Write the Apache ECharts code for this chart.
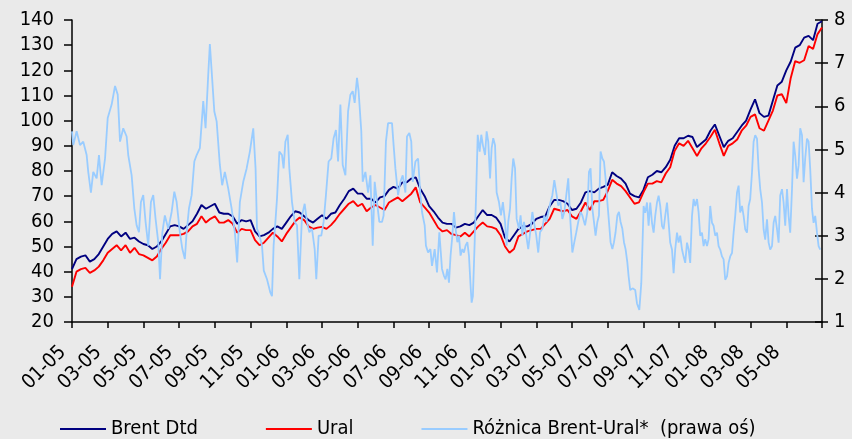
<!DOCTYPE html>
<html>
<head>
<meta charset="utf-8">
<script src="https://cdn.jsdelivr.net/npm/echarts/dist/echarts.min.js"></script>
<style>
  html, body { margin: 0; padding: 0; background: #eaeaea; }
  #chart { width: 852px; height: 439px; }
</style>
</head>
<body>
<div id="chart"></div>
<script>
// Month index 0 = Jan 2005; ticks every two months.
const xTickLabels = ['01-05', '03-05', '05-05', '07-05', '09-05', '11-05',
  '01-06', '03-06', '05-06', '07-06', '09-06', '11-06',
  '01-07', '03-07', '05-07', '07-07', '09-07', '11-07',
  '01-08', '03-08', '05-08'];

// Brent and Ural sampled weekly (quarter-month steps from Jan 2005), USD/bbl.
const sampleStep = 0.25;

const brent = [
  41, 45, 46, 46.5, 44, 45, 47, 50, 53, 55, 56, 54,
  55.5, 53, 53.5, 52, 51, 50.5, 49, 50, 52, 55, 58, 58.5,
  58, 57, 58.5, 60, 63, 66.5, 65, 66, 67, 63.5, 63, 63,
  62, 59, 60.5, 60, 60.5, 56, 54, 54.5, 55.5, 57, 58, 57,
  59.5, 62, 64, 63.5, 62, 60.5, 59.5, 61, 62.4, 61, 63, 63.5,
  66.5, 69, 72, 73, 71, 71, 69, 69, 67.5, 69.5, 70, 72.5,
  73.7, 73, 75.5, 75.5, 77, 77.5, 73, 70, 66, 64, 61.5, 59.5,
  59, 59, 57.5, 58, 59, 58.5, 59.5, 62, 64.5, 62.5, 62.5, 61.5,
  59, 53.5, 52, 54.5, 57, 58, 58, 59, 61, 61.7, 62, 66,
  68.5, 68.5, 68, 67, 64.5, 65, 67.5, 71.5, 72, 71.5, 73, 73.7,
  74.5, 79.5, 78, 77, 75, 71, 70, 69.5, 72.5, 77.5, 78.5, 80,
  79.5, 81.5, 84.5, 90, 93, 93, 94, 93.5, 89.5, 91, 92.5, 96,
  98.5, 94, 89.5, 92, 93, 95.5, 98, 100, 104.5, 108.5, 103, 101.5,
  102, 108, 114, 115.5, 120, 123.5, 129, 130, 133, 133.7, 132, 138.5,
  139.5
];

const ural = [
  34, 40, 41, 41.5, 39.5, 40.5, 42, 44.5, 47.5, 49, 50.5, 48.5,
  50.5, 47.5, 49.5, 47, 46.5, 45.5, 44.5, 46, 49, 51.5, 54.5, 54.5,
  54.5, 55, 56, 58, 59, 62, 59.5, 61, 62, 59.5, 59.5, 60.5,
  59, 55.5, 57, 56.5, 56.5, 52.5, 50.5, 51.5, 53.5, 55.5, 54, 52,
  55, 57.5, 60, 61.5, 60.5, 58, 57, 57.5, 57.8, 57, 58.5, 60.5,
  63, 65, 67, 68, 66, 67, 64, 65.5, 66.5, 65.5, 64.5, 67.5,
  68.5, 69.5, 68, 69.5, 71, 73.5, 67.5, 65.5, 63.5, 60.5, 57.5, 56,
  56.5, 55, 54.5, 54, 55.5, 54, 56, 58, 59.5, 58, 57.7, 57,
  54.5, 50, 47.5, 49, 54, 55, 56, 56.5, 57, 57, 59, 61,
  65, 64.5, 64, 64.5, 62, 61, 64, 67.5, 64.5, 68, 68, 68.5,
  72, 76.5, 75, 74, 72, 69.5, 67, 67.5, 71.5, 75, 75, 76,
  75.5, 79, 81.5, 88, 91, 90, 92, 89, 86, 89, 91, 93.5,
  96.4, 91, 86, 90, 91, 92.5, 96, 98, 101.5, 102.5, 97, 96,
  100, 104, 110, 110.5, 107, 117, 123.7, 123, 124, 129.7, 128.5, 134.4,
  137
];

// Brent-Ural spread (right axis), month index and value pairs.
const spreadMonths = [
  0, 0.07, 0.26, 0.45, 0.63, 0.82, 0.91, 1.06, 1.19, 1.38, 1.51, 1.66, 1.85, 2.0,
  2.22, 2.41, 2.56, 2.69, 2.87, 3.06, 3.15, 3.34, 3.49, 3.62, 3.75, 3.86, 3.99,
  4.12, 4.27, 4.42, 4.55, 4.68, 4.83, 4.93, 5.06, 5.2, 5.39, 5.58, 5.73, 5.86,
  6.04, 6.18, 6.32, 6.42, 6.55, 6.7, 6.85, 6.98, 7.16, 7.35, 7.48, 7.63, 7.72,
  7.82, 7.97, 8.1, 8.28, 8.41, 8.56, 8.75, 8.94, 9.12, 9.25, 9.4, 9.59, 9.78,
  9.96, 10.15, 10.28, 10.36, 10.45, 10.64, 10.74, 10.92, 11.11, 11.2, 11.29,
  11.39, 11.48, 11.61, 11.76, 11.85, 11.95, 12.08, 12.17, 12.32, 12.47, 12.6,
  12.73, 12.88, 13.03, 13.16, 13.29, 13.44, 13.59, 13.68, 13.81, 13.96, 14.09,
  14.22, 14.37, 14.52, 14.65, 14.78, 14.9, 15.03, 15.16, 15.31, 15.46, 15.59,
  15.72, 15.83, 15.96, 16.05, 16.2, 16.28, 16.43, 16.58, 16.71, 16.84, 16.95,
  17.08, 17.21, 17.36, 17.45, 17.58, 17.7, 17.92, 18.01, 18.11, 18.26, 18.39,
  18.52, 18.67, 18.76, 18.89, 19.0, 19.08, 19.23, 19.38, 19.51, 19.6, 19.75,
  19.82, 19.94, 20.07, 20.16, 20.31, 20.44, 20.57, 20.72, 20.83, 20.92, 21.02,
  21.11, 21.2, 21.3, 21.39, 21.48, 21.58, 21.67, 21.76, 21.86, 21.95, 22.04,
  22.14, 22.23, 22.32, 22.38, 22.45, 22.55, 22.64, 22.72, 22.83, 22.92, 23.01,
  23.13, 23.22, 23.31, 23.41, 23.5, 23.59, 23.69, 23.78, 23.91, 24.02, 24.13,
  24.25, 24.34, 24.43, 24.53, 24.62, 24.71, 24.81, 24.9, 25.03, 25.12, 25.22,
  25.31, 25.44, 25.55, 25.68, 25.78, 25.87, 26.0, 26.11, 26.21, 26.34, 26.45,
  26.56, 26.67, 26.8, 26.9, 27.01, 27.12, 27.23, 27.35, 27.46, 27.57, 27.68,
  27.79, 27.89, 28.02, 28.13, 28.24, 28.35, 28.48, 28.58, 28.73, 28.86, 28.95,
  29.04, 29.14, 29.23, 29.32, 29.42, 29.51, 29.6, 29.7, 29.79, 29.88, 29.98,
  30.07, 30.16, 30.26, 30.35, 30.44, 30.54, 30.63, 30.72, 30.82, 30.91, 31.0,
  31.1, 31.17, 31.26, 31.39, 31.54, 31.64, 31.77, 31.88, 31.95, 32.01, 32.1,
  32.2, 32.29, 32.38, 32.48, 32.57, 32.66, 32.76, 32.85, 32.94, 33.04, 33.13,
  33.22, 33.32, 33.41, 33.5, 33.6, 33.69, 33.78, 33.88, 33.97, 34.06, 34.16,
  34.25, 34.34, 34.44, 34.53, 34.62, 34.72, 34.81, 34.9, 35.0, 35.09, 35.18,
  35.28, 35.37, 35.46, 35.56, 35.65, 35.74, 35.84, 35.93, 36.02, 36.12, 36.21,
  36.3, 36.4, 36.49, 36.58, 36.68, 36.77, 36.86, 36.96, 37.05, 37.14, 37.24,
  37.33, 37.42, 37.52, 37.61, 37.7, 37.8, 37.89, 37.98, 38.08, 38.17, 38.26,
  38.36, 38.45, 38.54, 38.64, 38.73, 38.82, 38.92, 39.01, 39.1, 39.2, 39.29,
  39.38, 39.48, 39.57, 39.66, 39.76, 39.85, 39.94, 40.04, 40.13, 40.22, 40.32,
  40.41, 40.5, 40.6, 40.69, 40.78, 40.88, 40.97, 41.06, 41.16, 41.25, 41.34,
  41.44, 41.53, 41.62, 41.72, 41.81, 41.9
];

const spreadValues = [
  5.42, 5.1, 5.42, 5.1, 5.18, 4.87, 4.48, 4.0, 4.48, 4.33, 4.87, 4.17, 4.79, 5.73,
  6.04, 6.47, 6.27, 5.18, 5.49, 5.3, 4.87, 4.4, 3.63, 3.24, 3.08, 3.78, 3.94,
  3.32, 2.77, 3.78, 3.94, 3.39, 2.85, 1.99, 3.08, 3.47, 3.16, 3.55, 4.02, 3.78,
  3.08, 2.69, 2.46, 3.08, 3.63, 3.94, 4.72, 4.87, 5.03, 6.12, 5.49, 6.74, 7.44,
  6.82, 5.88, 5.65, 4.64, 4.17, 4.48, 4.09, 3.63, 3.08, 2.38, 3.78, 4.25, 4.56,
  4.95, 5.49, 4.56, 3.16, 3.08, 2.77, 2.19, 1.99, 1.68, 1.6, 2.77,
  3.32, 3.86, 4.95, 4.87, 4.56, 5.18, 5.34, 4.56, 3.78, 3.32, 3.24,
  1.99, 3.47, 3.74, 3.32, 3.08, 3.16, 2.69, 1.99, 3.0, 3.0, 3.32,
  3.94, 4.72, 4.79, 5.26, 5.45, 4.72, 6.04, 4.64, 4.4, 5.88, 6.27,
  6.35, 6.08, 6.66, 6.35, 5.42, 4.25, 4.48, 4.0, 4.4, 2.77, 4.25,
  3.78, 3.32, 3.32, 3.47, 5.18, 5.61, 5.61, 5.1, 4.56, 3.94, 4.25,
  4.4, 4.0, 5.3, 5.38, 5.18, 4.25, 4.72, 4.79, 3.94, 3.55, 3.24,
  2.77, 2.61, 2.69, 2.3, 2.69, 2.15, 3.08, 2.23, 2.07, 1.99, 2.23,
  1.91, 2.54, 3.0, 3.55, 3.16, 2.85, 3.0, 2.54, 2.69, 2.61, 2.77,
  2.85, 2.54, 1.84, 1.45, 1.6, 2.85, 4.09, 5.34, 4.95, 5.34, 5.1,
  4.87, 5.42, 5.18, 4.33, 5.03, 5.26, 5.1, 4.0, 3.78, 3.47, 3.78,
  3.32, 2.77, 3.32, 3.63, 4.33, 4.79, 4.56, 3.39, 3.16, 3.47, 3.0,
  3.32, 3.0, 2.69, 3.16, 3.55, 3.32, 3.0, 2.61, 3.08, 3.16, 3.47,
  3.32, 3.55, 3.78, 3.94, 4.29, 4.0, 3.7, 3.78, 3.39, 3.55, 3.94,
  4.33, 3.47, 2.61, 2.85, 3.08, 3.32, 3.55, 3.47, 3.24, 3.55, 4.48,
  4.56, 3.63, 3.32, 3.0, 3.32, 3.47, 4.95, 4.79, 4.72, 4.33, 3.78,
  3.32, 2.85, 2.69, 2.85, 3.08, 3.47, 3.55, 3.32, 3.16, 2.85, 2.69,
  2.38, 2.06, 1.74, 1.78, 1.74, 1.43, 1.28, 1.9, 2.83, 3.69, 3.53,
  3.77, 3.23, 3.77, 3.3, 3.07, 3.46, 3.77, 3.93, 3.69, 3.23, 3.15,
  3.46, 3.77, 3.81, 2.84, 2.68, 2.13, 2.68, 3.07, 2.84, 3.0, 2.68,
  2.52, 2.37, 2.84, 2.68, 2.37, 3.46, 3.85, 3.69, 3.85, 3.54, 3.0,
  3.07, 2.76, 2.92, 2.76, 2.92, 3.69, 3.3, 3.23, 3.0, 3.07, 2.76,
  2.68, 2.52, 2.45, 1.98, 2.06, 2.37, 2.52, 2.6, 3.07, 3.46, 4.0,
  4.16, 3.54, 3.69, 3.46, 3.15, 3.07, 3.69, 3.85, 4.47, 5.18, 5.33,
  5.25, 4.55, 4.08, 3.77, 3.15, 2.91, 3.38, 2.84, 2.68, 2.76, 3.3,
  3.46, 3.15, 2.84, 3.93, 4.08, 3.77, 3.23, 4.08, 3.46, 3.07, 4.08,
  5.18, 4.86, 4.32, 4.63, 5.49, 5.33, 4.24, 4.79, 5.25, 5.18, 4.55,
  3.62, 3.3, 3.46, 3.07, 2.76, 2.68
];

const FONT = '"DejaVu Sans Condensed", "DejaVu Sans", Verdana, sans-serif';
const INK = '#000000';

const brentData = brent.map((v, i) => [i * sampleStep, v]);
const uralData = ural.map((v, i) => [i * sampleStep, v]);
const spreadData = spreadMonths.map((m, i) => [m, spreadValues[i]]);

const chart = echarts.init(document.getElementById('chart'), null, { renderer: 'canvas' });

const axisLineStyle = { color: INK, width: 1.5 };

chart.setOption({
  animation: false,
  backgroundColor: '#eaeaea',
  textStyle: { fontFamily: FONT, color: INK },
  grid: { left: 72, right: 30, top: 20, bottom: 117, containLabel: false },
  legend: {
    data: ['Brent Dtd', 'Ural', 'Różnica Brent-Ural*  (prawa oś)'],
    left: 55,
    top: 414,
    icon: 'rect',
    itemWidth: 46,
    itemHeight: 2,
    itemGap: 68,
    textStyle: { fontFamily: FONT, fontSize: 20, color: INK }
  },
  xAxis: {
    type: 'value',
    min: 0,
    max: 42,
    interval: 2,
    axisLine: { show: true, onZero: false, lineStyle: axisLineStyle },
    axisTick: { show: true, length: 6, lineStyle: axisLineStyle },
    splitLine: { show: false },
    axisLabel: {
      rotate: 45,
      margin: 18,
      padding: [0, 13, 0, 0],
      fontFamily: FONT,
      fontSize: 20,
      color: INK,
      showMaxLabel: true,
      formatter: (v) => xTickLabels[Math.round(v / 2)] || ''
    }
  },
  yAxis: [
    {
      type: 'value',
      position: 'left',
      min: 20,
      max: 140,
      interval: 10,
      axisLine: { show: true, lineStyle: axisLineStyle },
      axisTick: { show: true, length: 8, lineStyle: axisLineStyle },
      splitLine: { show: false },
      axisLabel: { margin: 18, fontFamily: FONT, fontSize: 20, color: INK }
    },
    {
      type: 'value',
      position: 'right',
      min: 1,
      max: 8,
      interval: 1,
      axisLine: { show: true, lineStyle: axisLineStyle },
      axisTick: { show: true, length: 6, lineStyle: axisLineStyle },
      splitLine: { show: false },
      axisLabel: { margin: 12, fontFamily: FONT, fontSize: 20, color: INK }
    },
    {
      // inner half of the crossing ticks on the right-hand axis
      type: 'value',
      position: 'right',
      min: 1,
      max: 8,
      interval: 1,
      axisLine: { show: false },
      axisTick: { show: true, inside: true, length: 7, lineStyle: axisLineStyle },
      splitLine: { show: false },
      axisLabel: { show: false }
    }
  ],
  series: [
    {
      name: 'Brent Dtd',
      type: 'line',
      yAxisIndex: 0,
      data: brentData,
      color: '#000080',
      showSymbol: false,
      lineStyle: { color: '#000080', width: 1.9 },
      z: 3
    },
    {
      name: 'Ural',
      type: 'line',
      yAxisIndex: 0,
      data: uralData,
      color: '#ff0000',
      showSymbol: false,
      lineStyle: { color: '#ff0000', width: 1.9 },
      z: 3
    },
    {
      name: 'Różnica Brent-Ural*  (prawa oś)',
      type: 'line',
      yAxisIndex: 1,
      data: spreadData,
      color: '#99ccff',
      showSymbol: false,
      lineStyle: { color: '#99ccff', width: 1.8 },
      z: 4
    }
  ]
});
</script>
</body>
</html>
